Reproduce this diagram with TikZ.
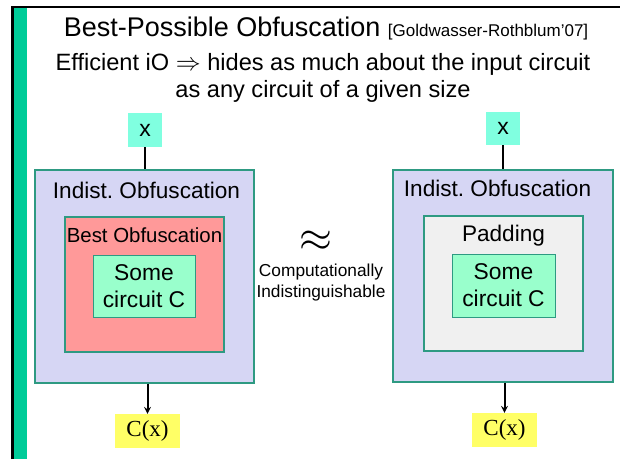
\documentclass[tikz,border=0pt]{standalone}
\usepackage{fontspec}
\setmainfont{Liberation Sans}
\newfontfamily\timesfont{Liberation Serif}
\usepackage{tikz}
\usetikzlibrary{positioning, arrows}

\definecolor{slidegreen}{HTML}{00CC99}
\definecolor{boxedge}{HTML}{2E9A82}
\definecolor{lavender}{HTML}{D6D6F4}
\definecolor{salmon}{HTML}{FF9999}
\definecolor{mint}{HTML}{99FFCC}
\definecolor{aqua}{HTML}{80FFE0}
\definecolor{lemon}{HTML}{FFFF66}
\definecolor{padgray}{HTML}{F0F0F0}

\begin{document}
\begin{tikzpicture}[x=1pt, y=-1pt]
				\tikzstyle{outer} = [rectangle, draw=boxedge, line width=1.3pt, fill=lavender, minimum width=219pt, minimum height=213pt, inner sep=0pt]
				\tikzstyle{inner} = [rectangle, draw=boxedge, line width=1.3pt, minimum width=159pt, minimum height=135pt, inner sep=0pt]
				\tikzstyle{circ} = [rectangle, draw=boxedge, line width=0.8pt, fill=mint, minimum width=102pt, minimum height=62pt, inner sep=0pt, align=center, font=\fontsize{22.8}{27}\selectfont]
				\tikzstyle{input} = [rectangle, fill=aqua, minimum width=34pt, minimum height=34pt, inner sep=0pt, font=\fontsize{23}{24}\selectfont]
				\tikzstyle{output} = [rectangle, fill=lemon, minimum width=65pt, minimum height=34pt, inner sep=0pt, font=\timesfont\fontsize{23}{24}\selectfont]
				\tikzstyle{label} = [inner sep=0pt, font=\fontsize{22.6}{24}\selectfont]
				\tikzstyle{wire} = [line width=2pt]
				\tikzstyle{arrow} = [line width=2pt, ->, >=stealth]

				% slide frame
				\useasboundingbox (0,0) rectangle (620,459);
				\fill[slidegreen] (14,8) rectangle (27,459);
				\draw[line width=2.5pt] (12.5,459) -- (12.5,7) -- (620,7);

				% heading
				\node [inner sep=0pt] (title) at (326,28) {\fontsize{27}{30}\selectfont Best-Possible Obfuscation \fontsize{17}{18}\selectfont [Goldwasser-Rothblum'07]};
				\node [inner sep=0pt, align=center, font=\fontsize{23.6}{27}\selectfont] (claim) at (323,77.5) {Efficient iO $\Rightarrow$ hides as much about the input circuit\\as any circuit of a given size};

				% left: best obfuscation
				\node [outer] (lobf) at (144.5,276.5) {};
				\node [label] (lname) at (146.5,190) {Indist.\ Obfuscation};
				\node [inner, fill=salmon] (best) at (144.5,284.5) {};
				\node [label, font=\fontsize{20.4}{22}\selectfont] (bname) at (144.5,235) {Best Obfuscation};
				\node [circ] (lcirc) at (144,286) {Some\\circuit C};
				\node [input] (lx) at (145,130) {x};
				\node [output] (lout) at (147.5,431) {C(x)};

				% right: padding
				\node [outer, minimum width=220pt, minimum height=212pt] (robf) at (503,276) {};
				\node [label] (rname) at (497.5,188) {Indist.\ Obfuscation};
				\node [inner, fill=padgray] (pad) at (503.5,283.5) {};
				\node [label] (pname) at (503.5,236) {Padding};
				\node [circ, minimum width=103pt, minimum height=63pt] (rcirc) at (503.5,285.5) {Some\\circuit C};
				\node [input, minimum height=33pt] (rx) at (503,128.5) {x};
				\node [output] (rout) at (504.5,430) {C(x)};

				% middle
				\node [inner sep=0pt] (approx) at (316,241) {\scalebox{1.7}{\fontsize{24}{24}\selectfont$\approx$}};
				\node [inner sep=0pt, align=center, font=\fontsize{17.3}{21}\selectfont] (comp) at (321,283) {Computationally\\Indistinguishable};

				\draw [wire] (lx) -- (lx |- lobf.north);
				\draw [wire] (rx) -- (rx |- robf.north);
				\draw [arrow] (lout |- lobf.south) -- (lout);
				\draw [arrow] (rout |- robf.south) -- (rout);
			\end{tikzpicture}
\end{document}
